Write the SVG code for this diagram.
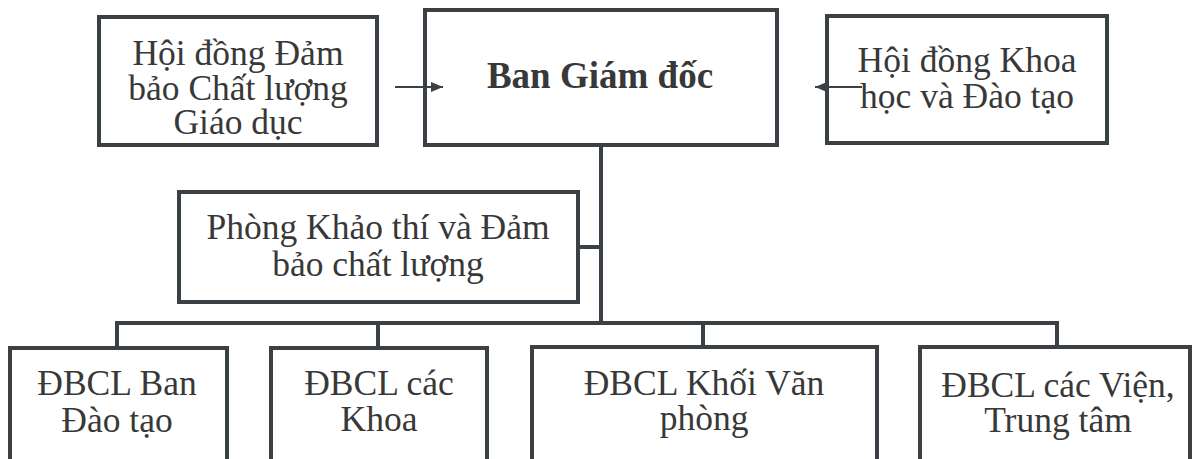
<svg xmlns="http://www.w3.org/2000/svg" width="1197" height="459" viewBox="0 0 1197 459">
<style>
.box{fill:#fff;stroke:#3a4043;stroke-width:4}
.t{font-family:"Liberation Serif","Times New Roman",serif;font-size:35.5px;fill:#383838;text-anchor:middle}
.b{font-weight:bold;font-size:37px}
.c{fill:none;stroke:#3a4043;stroke-width:4}
.a{fill:none;stroke:#3a4043;stroke-width:2}
</style>
<defs>
<marker id="ah" viewBox="0 0 12 10" refX="12" refY="5" markerWidth="12" markerHeight="10" markerUnits="userSpaceOnUse" orient="auto">
<path d="M0,0 L12,5 L0,10 Z" fill="#3a4043"/>
</marker>
</defs>
<rect width="1197" height="459" fill="#fff"/>
<g id="connectors">
<path class="c" d="M601,145 V323"/>
<path class="c" d="M578,247 H601"/>
<path class="c" d="M117,348 V323 H1057 V348"/>
<path class="c" d="M378,323 V348"/>
<path class="c" d="M703,323 V348"/>
</g>
<g id="n1">
<rect class="box" x="99" y="17" width="278" height="128"/>
<text class="t" x="238" y="65">Hội đồng Đảm</text>
<text class="t" x="238" y="100">bảo Chất lượng</text>
<text class="t" x="238" y="134">Giáo dục</text>
</g>
<g id="n2">
<rect class="box" x="425" y="10" width="352" height="135"/>
<text class="t b" x="600" y="88">Ban Giám đốc</text>
</g>
<g id="n3">
<rect class="box" x="827" y="16" width="280" height="127"/>
<text class="t" x="967" y="72">Hội đồng Khoa</text>
<text class="t" x="967" y="108">học và Đào tạo</text>
</g>
<g id="n4">
<rect class="box" x="179" y="192" width="399" height="110"/>
<text class="t" x="378" y="239">Phòng Khảo thí và Đảm</text>
<text class="t" x="378" y="276">bảo chất lượng</text>
</g>
<g id="n5">
<rect class="box" x="10" y="348" width="217" height="125"/>
<text class="t" x="117" y="395">ĐBCL Ban</text>
<text class="t" x="117" y="432">Đào tạo</text>
</g>
<g id="n6">
<rect class="box" x="271" y="348" width="216" height="125"/>
<text class="t" x="379" y="395">ĐBCL các</text>
<text class="t" x="379" y="431">Khoa</text>
</g>
<g id="n7">
<rect class="box" x="532" y="347" width="345" height="126"/>
<text class="t" x="704" y="395">ĐBCL Khối Văn</text>
<text class="t" x="704" y="430">phòng</text>
</g>
<g id="n8">
<rect class="box" x="920" y="347" width="270" height="126"/>
<text class="t" x="1058" y="397">ĐBCL các Viện,</text>
<text class="t" x="1058" y="432">Trung tâm</text>
</g>
<g id="arrows">
<path class="a" d="M395,87 H443" marker-end="url(#ah)"/>
<path class="a" d="M862,87 H815" marker-end="url(#ah)"/>
</g>
</svg>
